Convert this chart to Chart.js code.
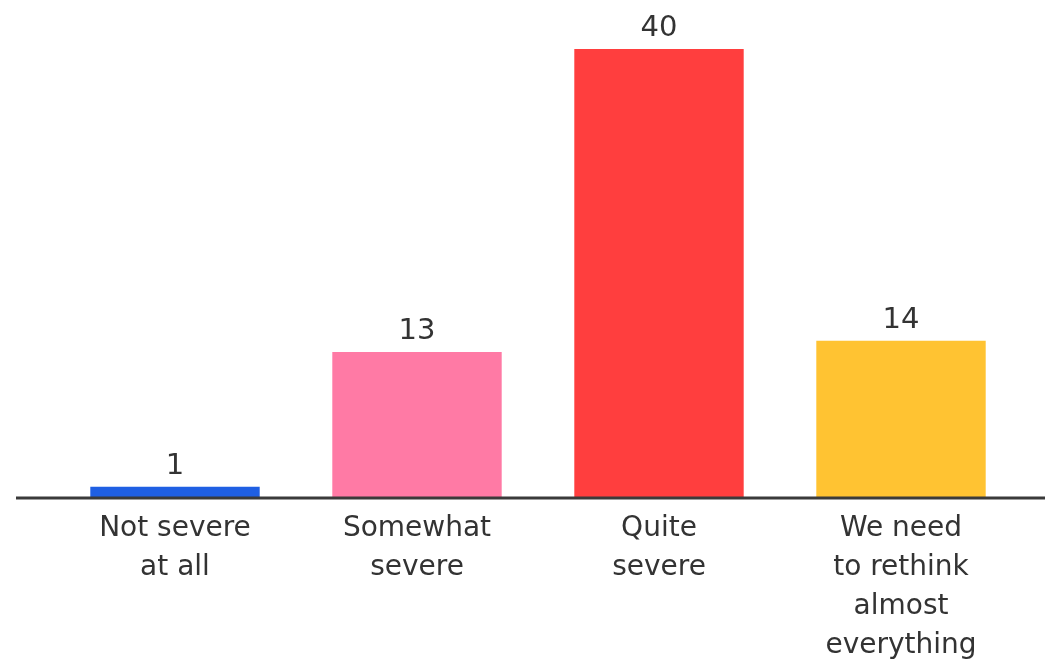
<!DOCTYPE html>
<html>
<head>
<meta charset="utf-8">
<title>Severity</title>
<script src="https://cdn.jsdelivr.net/npm/chart.js@4/dist/chart.umd.min.js"></script>
<style>
  html, body { margin: 0; padding: 0; background: #fff; }
  #chart { display: block; }
</style>
</head>
<body>
<canvas id="chart" width="1045" height="662"></canvas>
<script>
const categories = [
  ["Not severe", "at all"],
  ["Somewhat", "severe"],
  ["Quite", "severe"],
  ["We need", "to rethink", "almost", "everything"],
];
const values = [1, 13, 40, 14];
const barColors = ["#1f5fe3", "#ff7aa5", "#ff3e3e", "#ffc332"];

const textColor = "#333333";
const fontFamily = "'DejaVu Sans', sans-serif";

// value above each bar
const valueLabels = {
  id: "valueLabels",
  afterDatasetsDraw(chart) {
    const ctx = chart.ctx;
    const meta = chart.getDatasetMeta(0);
    ctx.save();
    ctx.fillStyle = textColor;
    ctx.font = "29px " + fontFamily;
    ctx.textAlign = "center";
    ctx.textBaseline = "alphabetic";
    meta.data.forEach((bar, i) => {
      ctx.fillText(String(values[i]), bar.x, bar.y - 13);
    });
    ctx.restore();
  },
};

// baseline runs past the outer bars almost to the edges
const baseline = {
  id: "baseline",
  afterDatasetsDraw(chart) {
    const ctx = chart.ctx;
    const y = chart.scales.y.getPixelForValue(0);
    ctx.save();
    ctx.strokeStyle = "#3a3a3a";
    ctx.lineWidth = 3;
    ctx.beginPath();
    ctx.moveTo(16, y);
    ctx.lineTo(chart.width, y);
    ctx.stroke();
    ctx.restore();
  },
};

new Chart(document.getElementById("chart"), {
  type: "bar",
  data: {
    labels: categories,
    datasets: [
      {
        data: values,
        backgroundColor: barColors,
        borderWidth: 0,
        barPercentage: 0.7,
        categoryPercentage: 1,
      },
    ],
  },
  options: {
    responsive: false,
    animation: false,
    layout: { padding: { left: 54, right: 23, top: 49, bottom: 0 } },
    plugins: {
      legend: { display: false },
      tooltip: { enabled: false },
    },
    scales: {
      x: {
        grid: { display: false, drawTicks: false },
        border: { display: false },
        afterFit(scale) {
          scale.height = 164;
        },
        ticks: {
          color: textColor,
          font: { family: fontFamily, size: 28, lineHeight: 1.39 },
          padding: 11,
          maxRotation: 0,
          autoSkip: false,
        },
      },
      y: {
        display: false,
        min: 0,
        max: 40,
      },
    },
  },
  plugins: [valueLabels, baseline],
});
</script>
</body>
</html>
